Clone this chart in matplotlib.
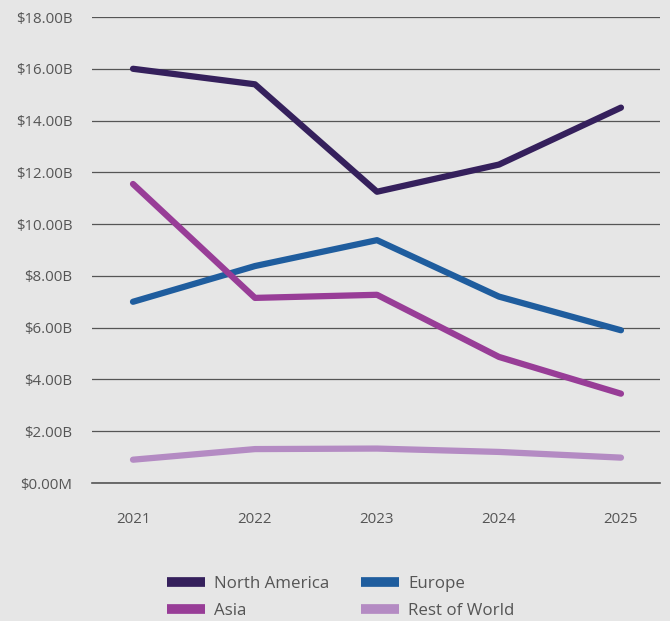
import numpy as np
import matplotlib.pyplot as plt

years = [2021, 2022, 2023, 2024, 2025]
north_america = [16.0, 15.4, 11.25, 12.3, 14.5]
europe = [7.0, 8.38, 9.38, 7.2, 5.9]
asia = [11.55, 7.15, 7.27, 4.87, 3.45]
rest_of_world = [0.9, 1.31, 1.33, 1.2, 0.98]

yticks = np.arange(0, 19, 2)
ylabels = ['$0.00M'] + ['$%.2fB' % v for v in yticks[1:]]

plt.rcParams['font.family'] = ['Open Sans', 'DejaVu Sans']
bg = '#e6e6e6'
txt = '#555555'

fig = plt.figure(figsize=(6.7, 6.21), dpi=100, facecolor=bg)
ax = fig.add_axes([92/670, 138/621, 568/670, 466/621], facecolor=bg)

series = [
    ('North America', north_america, '#35205c'),
    ('Europe', europe, '#1f5d9e'),
    ('Asia', asia, '#983d97'),
    ('Rest of World', rest_of_world, '#b48bc3'),
]
lines = {}
for name, vals, col in series:
    l, = ax.plot(years, vals, color=col, lw=4.5, solid_capstyle='round', label=name, zorder=3)
    lines[name] = l

ax.set_ylim(0, 18)
ax.set_xlim(2021 - 0.336, 2025 + 0.32)
ax.set_yticks(yticks)
ax.set_yticklabels(ylabels)
ax.set_xticks(years)
ax.tick_params(length=0, labelsize=10.8, colors=txt)
ax.tick_params(axis='y', pad=14)
ax.tick_params(axis='x', pad=21)
ax.grid(axis='y', color='#555555', lw=0.9)
ax.axhline(0, color='#555555', lw=1.2, clip_on=False, zorder=1)
ax.set_axisbelow(True)
for s in ax.spines.values():
    s.set_visible(False)

# column-first fill: NA, Asia | Europe, Rest
order = ['North America', 'Asia', 'Europe', 'Rest of World']
leg = fig.legend([lines[n] for n in order], order, loc='lower left',
                 bbox_to_anchor=(160/670, -0.007), ncol=2, frameon=False,
                 fontsize=12.2, handlelength=2.25, columnspacing=1.85, labelspacing=0.65,
                 handletextpad=0.55, borderaxespad=0.0)
for t in leg.get_texts():
    t.set_color(txt)
for h in leg.legend_handles:
    h.set_linewidth(7)
    h.set_solid_capstyle('butt')

fig.savefig('out.png', dpi=100, facecolor=bg)
